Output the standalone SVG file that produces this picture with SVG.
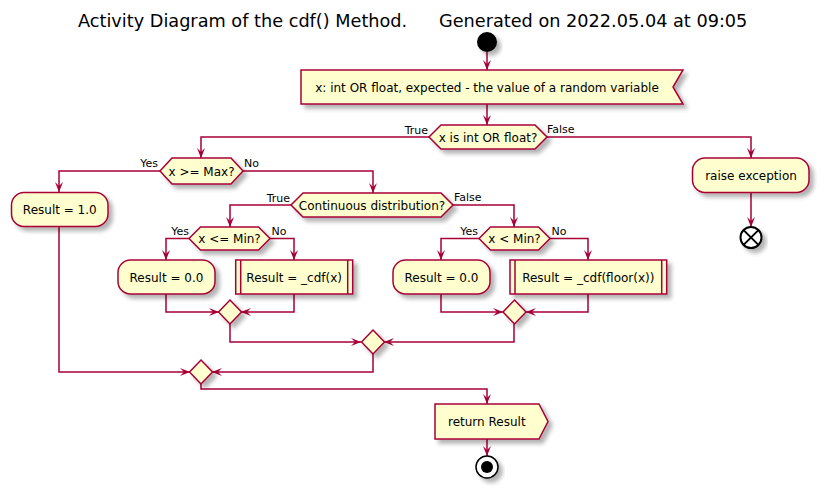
<svg xmlns="http://www.w3.org/2000/svg" width="825" height="496" viewBox="0 0 825 496">
<style>
.n{fill:#FEFECE;stroke:#A80036;stroke-width:1.5;filter:url(#sh)}
.t{font-family:"DejaVu Sans",sans-serif;font-size:12px;fill:#000}
.l{font-family:"DejaVu Sans",sans-serif;font-size:11px;fill:#000}
.c{fill:none;stroke:#A80036;stroke-width:1.5;marker-end:url(#ah)}
.title{font-family:"DejaVu Sans",sans-serif;font-size:17.7px;fill:#000}
</style>
<defs>
<filter id="sh" x="-20%" y="-20%" width="150%" height="160%">
<feGaussianBlur in="SourceAlpha" stdDeviation="2"/>
<feOffset dx="4" dy="4" result="b"/>
<feComponentTransfer><feFuncA type="linear" slope="0.3"/></feComponentTransfer>
<feMerge><feMergeNode/><feMergeNode in="SourceGraphic"/></feMerge>
</filter>
<marker id="ah" viewBox="-11 -5 12 10" refX="0" refY="0" markerWidth="12" markerHeight="10" markerUnits="userSpaceOnUse" orient="auto">
<path d="M0,0 L-10,-4 L-6,0 L-10,4 Z" fill="#A80036"/>
</marker>
</defs>
<rect width="825" height="496" fill="#fff"/>
<text class="title" y="27"><tspan x="78">Activity Diagram of the cdf() Method.</tspan><tspan x="439">Generated on 2022.05.04 at 09:05</tspan></text>

<g id="connectors">
<polyline class="c" points="487,52 487,70"/>
<polyline class="c" points="487,104 487,125"/>
<polyline class="c" points="429,137 201,137 201,158"/>
<polyline class="c" points="547,137 751,137 751,158"/>
<polyline class="c" points="751,193 751,227"/>
<polyline class="c" points="160,171 59,171 59,192"/>
<polyline class="c" points="243,171 373,171 373,193"/>
<polyline class="c" points="291,205 230,205 230,227"/>
<polyline class="c" points="453,205 514,205 514,227"/>
<polyline class="c" points="189,238.5 166,238.5 166,260"/>
<polyline class="c" points="270,238.5 294,238.5 294,260"/>
<polyline class="c" points="479,238.5 441,238.5 441,260"/>
<polyline class="c" points="550,238.5 588,238.5 588,260"/>
<polyline class="c" points="166,294 166,312 219,312"/>
<polyline class="c" points="294,294 294,312 241,312"/>
<polyline class="c" points="441,294 441,312 503,312"/>
<polyline class="c" points="588,294 588,312 526,312"/>
<polyline class="c" points="230,324 230,342 361,342"/>
<polyline class="c" points="514,324 514,342 384,342"/>
<polyline class="c" points="59,227 59,372 190,372"/>
<polyline class="c" points="373,354 373,372 212,372"/>
<polyline class="c" points="201,384 201,389 487,389 487,404"/>
<polyline class="c" points="487,439 487,456"/>
</g>

<g id="start"><circle cx="487" cy="42" r="10" fill="#000" filter="url(#sh)"/></g>

<g id="input">
<polygon class="n" points="301,70 683,70 673,87 683,104 301,104"/>
<text class="t" x="487" y="92" text-anchor="middle">x: int OR float, expected - the value of a random variable</text>
</g>

<g id="d_type">
<polygon class="n" points="429,137 441,125 535,125 547,137 535,149 441,149"/>
<text class="t" x="488" y="141.5" text-anchor="middle">x is int OR float?</text>
<text class="l" x="428" y="134" text-anchor="end">True</text>
<text class="l" x="547" y="133">False</text>
</g>

<g id="raise">
<rect class="n" x="692.5" y="158" width="116.5" height="34.5" rx="12.5"/>
<text class="t" x="751" y="179.5" text-anchor="middle">raise exception</text>
</g>

<g id="end_x">
<circle cx="751" cy="237.5" r="10.5" fill="#fff" stroke="#000" stroke-width="2" filter="url(#sh)"/>
<path d="M743.6,230.1 L758.4,244.9 M758.4,230.1 L743.6,244.9" stroke="#000" stroke-width="2"/>
</g>

<g id="d_max">
<polygon class="n" points="160,171 172,158 231,158 243,171 231,184 172,184"/>
<text class="t" x="201.5" y="175.5" text-anchor="middle">x &gt;= Max?</text>
<text class="l" x="158" y="167" text-anchor="end">Yes</text>
<text class="l" x="244" y="167">No</text>
</g>

<g id="result_1">
<rect class="n" x="11.5" y="192.5" width="96.5" height="34" rx="12.5"/>
<text class="t" x="59.8" y="213.5" text-anchor="middle">Result = 1.0</text>
</g>

<g id="d_cont">
<polygon class="n" points="291,205 303,193 441,193 453,205 441,217 303,217"/>
<text class="t" x="372" y="209.5" text-anchor="middle">Continuous distribution?</text>
<text class="l" x="290" y="201.5" text-anchor="end">True</text>
<text class="l" x="454" y="201">False</text>
</g>

<g id="d_le_min">
<polygon class="n" points="189,238.5 200.5,227 258.5,227 270,238.5 258.5,250 200.5,250"/>
<text class="t" x="229.5" y="243" text-anchor="middle">x &lt;= Min?</text>
<text class="l" x="189" y="235" text-anchor="end">Yes</text>
<text class="l" x="271.5" y="235">No</text>
</g>

<g id="d_lt_min">
<polygon class="n" points="479,238.5 490.5,227 538.5,227 550,238.5 538.5,250 490.5,250"/>
<text class="t" x="514.5" y="243" text-anchor="middle">x &lt; Min?</text>
<text class="l" x="478" y="235" text-anchor="end">Yes</text>
<text class="l" x="551.5" y="235">No</text>
</g>

<g id="result_0a">
<rect class="n" x="118" y="260" width="97" height="34" rx="12.5"/>
<text class="t" x="166.5" y="281.5" text-anchor="middle">Result = 0.0</text>
</g>

<g id="cdf_x">
<rect class="n" x="235.7" y="260" width="117" height="34"/>
<path d="M240.7,260 V294 M347.7,260 V294" stroke="#A80036" stroke-width="1.5"/>
<text class="t" x="294.2" y="281.5" text-anchor="middle">Result = _cdf(x)</text>
</g>

<g id="result_0b">
<rect class="n" x="393" y="260" width="97" height="34" rx="12.5"/>
<text class="t" x="441.5" y="281.5" text-anchor="middle">Result = 0.0</text>
</g>

<g id="cdf_floor">
<rect class="n" x="510" y="260" width="156.7" height="34"/>
<path d="M515,260 V294 M661.7,260 V294" stroke="#A80036" stroke-width="1.5"/>
<text class="t" x="588.3" y="281.5" text-anchor="middle">Result = _cdf(floor(x))</text>
</g>

<g id="merge1"><polygon class="n" points="230,300 241.5,312 230,324 218.5,312"/></g>
<g id="merge2"><polygon class="n" points="514.5,300 526,312 514.5,324 503,312"/></g>
<g id="merge3"><polygon class="n" points="373,330 384.5,342 373,354 361.5,342"/></g>
<g id="merge4"><polygon class="n" points="201,360 212.5,372 201,384 189.5,372"/></g>

<g id="return">
<polygon class="n" points="435,404 539,404 548,421.5 539,439 435,439"/>
<text class="t" x="448" y="426">return Result</text>
</g>

<g id="stop">
<circle cx="487" cy="467" r="11" fill="#fff" stroke="#000" stroke-width="1.5" filter="url(#sh)"/>
<circle cx="487" cy="467" r="6" fill="#000"/>
</g>
</svg>
